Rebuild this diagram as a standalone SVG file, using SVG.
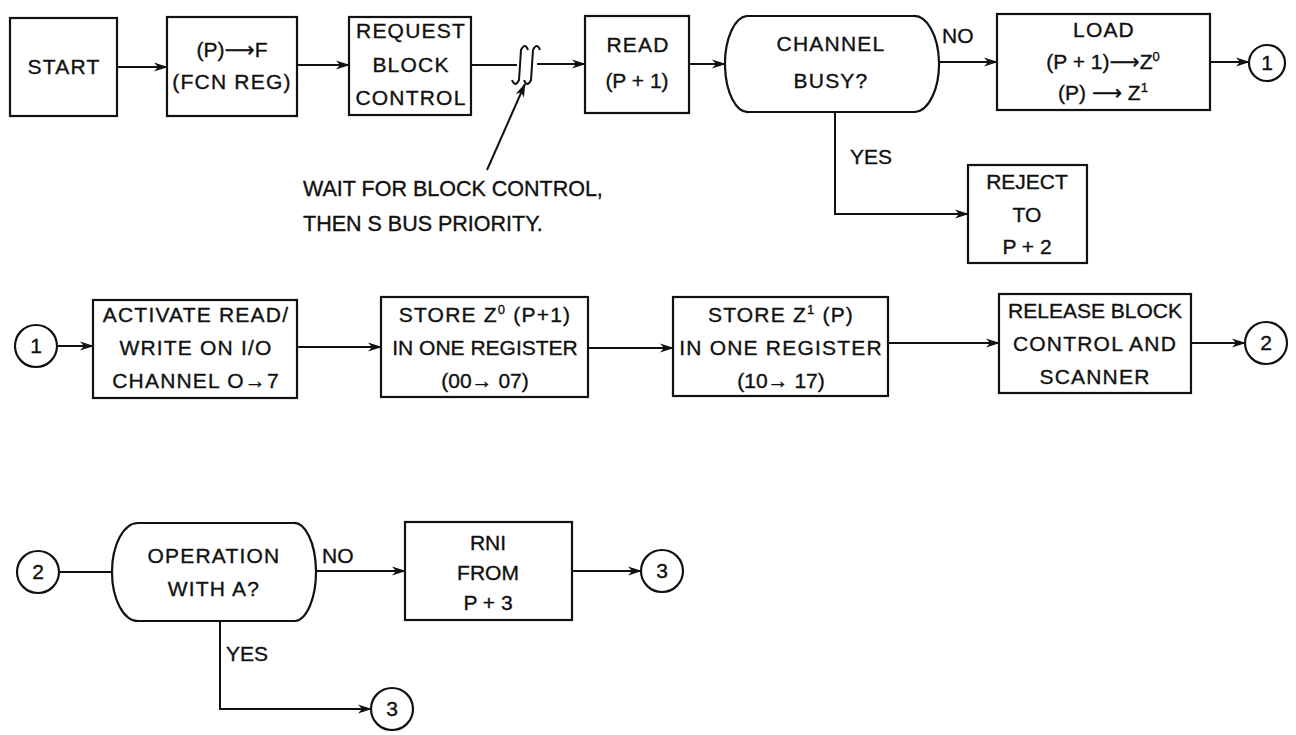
<svg xmlns="http://www.w3.org/2000/svg" width="1296" height="735" viewBox="0 0 1296 735">
<style>
.box{fill:#fff;stroke:#111;stroke-width:2.2}
.ln{fill:none;stroke:#111;stroke-width:2}
text{font-family:"Liberation Sans","DejaVu Sans",sans-serif;font-size:21px;fill:#111;stroke:#111;stroke-width:0.35;text-anchor:middle}
.l{text-anchor:start}
.sp{letter-spacing:1.2px}
.sup{font-size:13px}
.note{font-size:21.5px}
</style>
<defs>
<marker id="ah" markerWidth="14" markerHeight="10" refX="13" refY="5" orient="auto" markerUnits="userSpaceOnUse"><path d="M0,0.5 L14,5 L0,9.5 L4,5 Z" fill="#111"/></marker>
</defs>
<rect width="1296" height="735" fill="#fff"/>

<g id="connectors">
<line class="ln" x1="117" y1="67" x2="167" y2="67" marker-end="url(#ah)"/>
<line class="ln" x1="297" y1="65" x2="349" y2="65" marker-end="url(#ah)"/>
<line class="ln" x1="471" y1="65" x2="517" y2="65"/>
<path class="ln" d="M512,80 Q515,88 519,80 Q520,65 521,50 Q525,42 528,50" stroke-width="2.3"/>
<path class="ln" d="M524,80 Q527,88 531,80 Q532,65 533,50 Q537,42 540,50" stroke-width="2.3"/>
<line class="ln" x1="537" y1="64" x2="585" y2="64" marker-end="url(#ah)"/>
<line class="ln" x1="689" y1="64" x2="725" y2="64" marker-end="url(#ah)"/>
<line class="ln" x1="938" y1="62" x2="997" y2="62" marker-end="url(#ah)"/>
<line class="ln" x1="1210" y1="62" x2="1249" y2="62" marker-end="url(#ah)"/>
<polyline class="ln" points="835,112 835,214 968,214" marker-end="url(#ah)"/>
<line class="ln" x1="487" y1="170" x2="525" y2="84" marker-end="url(#ah)"/>
<line class="ln" x1="57" y1="346" x2="93" y2="346" marker-end="url(#ah)"/>
<line class="ln" x1="297" y1="347" x2="381" y2="347" marker-end="url(#ah)"/>
<line class="ln" x1="588" y1="348" x2="673" y2="348" marker-end="url(#ah)"/>
<line class="ln" x1="888" y1="343" x2="999" y2="343" marker-end="url(#ah)"/>
<line class="ln" x1="1191" y1="343" x2="1245" y2="343" marker-end="url(#ah)"/>
<line class="ln" x1="59" y1="572" x2="112" y2="572"/>
<line class="ln" x1="315" y1="571" x2="405" y2="571" marker-end="url(#ah)"/>
<line class="ln" x1="572" y1="571" x2="641" y2="571" marker-end="url(#ah)"/>
<polyline class="ln" points="220,621 220,709 371,709" marker-end="url(#ah)"/>
</g>

<g id="start"><rect class="box" x="10" y="18" width="107" height="98"/><text class="sp" x="64" y="74">START</text></g>
<g id="p-to-f"><rect class="box" x="167" y="17" width="130" height="99"/><text x="232" y="57">(P)⟶F</text><text class="sp" x="232" y="89">(FCN  REG)</text></g>
<g id="request"><rect class="box" x="349" y="17" width="122" height="98"/><text class="sp" x="411" y="38">REQUEST</text><text class="sp" x="411" y="72">BLOCK</text><text class="sp" x="411" y="105">CONTROL</text></g>
<g id="read"><rect class="box" x="585" y="16" width="104" height="97"/><text class="sp" x="638" y="52">READ</text><text x="637" y="88">(P + 1)</text></g>
<g id="channel-busy"><path class="box" d="M747,16 L913,16 A25 48 0 0 1 915,112 L749,112 A23 48 0 0 1 747,16 Z"/><text class="sp" x="831" y="51">CHANNEL</text><text class="sp" x="831" y="88">BUSY?</text></g>
<text class="l" x="942" y="43">NO</text>
<g id="load"><rect class="box" x="997" y="14" width="213" height="96"/><text class="sp" x="1104" y="37">LOAD</text><text x="1103" y="69">(P + 1)⟶Z<tspan class="sup" dy="-8">0</tspan></text><text x="1103" y="100">(P) ⟶ Z<tspan class="sup" dy="-8">1</tspan></text></g>
<g id="c1-top"><circle class="box" cx="1267" cy="63" r="18"/><text x="1267" y="70">1</text></g>
<text class="l" x="850" y="164">YES</text>
<g id="reject"><rect class="box" x="968" y="165" width="119" height="98"/><text x="1027" y="189">REJECT</text><text x="1027" y="222">TO</text><text x="1027" y="254">P + 2</text></g>
<g id="wait-note"><text class="l note" x="303" y="196">WAIT FOR BLOCK CONTROL,</text><text class="l note" x="303" y="231">THEN S BUS PRIORITY.</text></g>

<g id="c1-mid"><circle class="box" cx="36" cy="346" r="21"/><text x="36" y="353">1</text></g>
<g id="activate"><rect class="box" x="93" y="300" width="204" height="98"/><text class="sp" x="196" y="322">ACTIVATE READ/</text><text class="sp" x="196" y="355">WRITE ON I/O</text><text class="sp" x="196" y="388">CHANNEL O→7</text></g>
<g id="store-z0"><rect class="box" x="381" y="297" width="207" height="100"/><text class="sp" x="485" y="322">STORE Z<tspan class="sup" dy="-8">0</tspan><tspan dy="8"> (P+1)</tspan></text><text x="485" y="355">IN ONE REGISTER</text><text x="485" y="388">(00→ 07)</text></g>
<g id="store-z1"><rect class="box" x="673" y="297" width="215" height="99"/><text class="sp" x="781" y="322">STORE Z<tspan class="sup" dy="-8">1</tspan><tspan dy="8"> (P)</tspan></text><text class="sp" x="781" y="355">IN ONE REGISTER</text><text x="781" y="388">(10→ 17)</text></g>
<g id="release"><rect class="box" x="999" y="294" width="192" height="99"/><text x="1095" y="318">RELEASE BLOCK</text><text class="sp" x="1095" y="351">CONTROL AND</text><text class="sp" x="1095" y="384">SCANNER</text></g>
<g id="c2-mid"><circle class="box" cx="1266" cy="343" r="21"/><text x="1266" y="350">2</text></g>

<g id="c2-bot"><circle class="box" cx="38" cy="572" r="21"/><text x="38" y="579">2</text></g>
<g id="operation"><path class="box" d="M138,523 L293,523 A22 49 0 0 1 295,621 L138,621 A26 49 0 0 1 138,523 Z"/><text class="sp" x="214" y="563">OPERATION</text><text class="sp" x="214" y="596">WITH A?</text></g>
<text class="l" x="322" y="563">NO</text>
<g id="rni"><rect class="box" x="405" y="522" width="167" height="98"/><text x="488" y="550">RNI</text><text x="488" y="580">FROM</text><text x="488" y="610">P + 3</text></g>
<g id="c3-right"><circle class="box" cx="662" cy="571" r="21"/><text x="662" y="578">3</text></g>
<text class="l" x="226" y="661">YES</text>
<g id="c3-bot"><circle class="box" cx="392" cy="709" r="21"/><text x="392" y="716">3</text></g>
</svg>
